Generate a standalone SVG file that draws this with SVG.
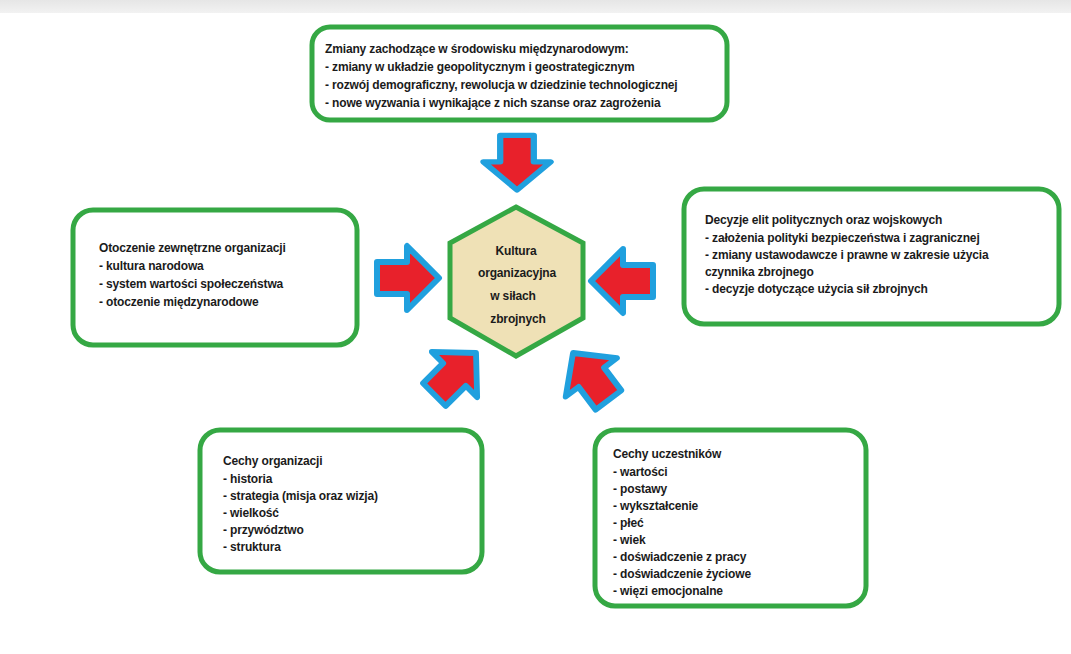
<svg xmlns="http://www.w3.org/2000/svg" width="1071" height="654" viewBox="0 0 1071 654">
<defs>
<linearGradient id="topfade" x1="0" y1="0" x2="0" y2="1">
<stop offset="0" stop-color="#e6e6e6"/>
<stop offset="1" stop-color="#f2f2f2"/>
</linearGradient>
<path id="arr" d="M0,0 L-32,-32 L-32,-16 L-62,-16 L-62,16 L-32,16 L-32,32 Z"/>
</defs>
<style>
.box{fill:#ffffff;stroke:#35a844;stroke-width:5}
.hex{fill:#efe1b6;stroke:#35a844;stroke-width:5}
.t{font-family:"Liberation Sans",Arial,sans-serif;font-weight:bold;font-size:12px;letter-spacing:-0.15px;fill:#1b1b1b}
.c{text-anchor:middle}
.a{fill:#e8212b;stroke:#20a0de;stroke-width:6;stroke-linejoin:round}
</style>
<rect x="0" y="0" width="1071" height="654" fill="#ffffff"/>
<rect x="0" y="0" width="1071" height="13" fill="url(#topfade)"/>

<g id="connectors">
<use href="#arr" class="a" transform="translate(517,190) rotate(90) scale(0.88,1.05)"/>
<use href="#arr" class="a" transform="translate(439,278)"/>
<use href="#arr" class="a" transform="translate(591,281) rotate(180)"/>
<use href="#arr" class="a" transform="translate(476,353) rotate(-45) scale(0.95,1)"/>
<use href="#arr" class="a" transform="translate(573,353) rotate(-127) scale(0.95,1)"/>
</g>

<g id="center">
<polygon class="hex" points="516,207 583,243 583,318 516,356 450,318 450,243"/>
<text class="t c" x="516" y="255">Kultura</text>
<text class="t c" x="517" y="277">organizacyjna</text>
<text class="t c" x="513" y="300">w siłach</text>
<text class="t c" x="518" y="323">zbrojnych</text>
</g>

<g id="top">
<rect class="box" x="312" y="27" width="415" height="93" rx="18"/>
<text class="t" x="325" y="53">Zmiany zachodzące w środowisku międzynarodowym:</text>
<text class="t" x="325" y="71">- zmiany w układzie geopolitycznym i geostrategicznym</text>
<text class="t" x="325" y="89">- rozwój demograficzny, rewolucja w dziedzinie technologicznej</text>
<text class="t" x="325" y="107">- nowe wyzwania i wynikające z nich szanse oraz zagrożenia</text>
</g>

<g id="left">
<rect class="box" x="73" y="210" width="284" height="135" rx="20"/>
<text class="t" x="99" y="252">Otoczenie zewnętrzne organizacji</text>
<text class="t" x="99" y="270">- kultura narodowa</text>
<text class="t" x="99" y="288">- system wartości społeczeństwa</text>
<text class="t" x="99" y="306">- otoczenie międzynarodowe</text>
</g>

<g id="right">
<rect class="box" x="684" y="189" width="375" height="135" rx="20"/>
<text class="t" x="705" y="224">Decyzje elit politycznych oraz wojskowych</text>
<text class="t" x="705" y="242">- założenia polityki bezpieczeństwa i zagranicznej</text>
<text class="t" x="705" y="259">- zmiany ustawodawcze i prawne w zakresie użycia</text>
<text class="t" x="705" y="276">czynnika zbrojnego</text>
<text class="t" x="705" y="293">- decyzje dotyczące użycia sił zbrojnych</text>
</g>

<g id="bottom-left">
<rect class="box" x="200" y="430" width="282" height="142" rx="20"/>
<text class="t" x="223" y="465">Cechy organizacji</text>
<text class="t" x="223" y="483">- historia</text>
<text class="t" x="223" y="500">- strategia (misja oraz wizja)</text>
<text class="t" x="223" y="517">- wielkość</text>
<text class="t" x="223" y="534">- przywództwo</text>
<text class="t" x="223" y="551">- struktura</text>
</g>

<g id="bottom-right">
<rect class="box" x="595" y="430" width="271" height="176" rx="20"/>
<text class="t" x="613" y="458">Cechy uczestników</text>
<text class="t" x="613" y="476">- wartości</text>
<text class="t" x="613" y="493">- postawy</text>
<text class="t" x="613" y="510">- wykształcenie</text>
<text class="t" x="613" y="527">- płeć</text>
<text class="t" x="613" y="544">- wiek</text>
<text class="t" x="613" y="561">- doświadczenie z pracy</text>
<text class="t" x="613" y="578">- doświadczenie życiowe</text>
<text class="t" x="613" y="595">- więzi emocjonalne</text>
</g>
</svg>
